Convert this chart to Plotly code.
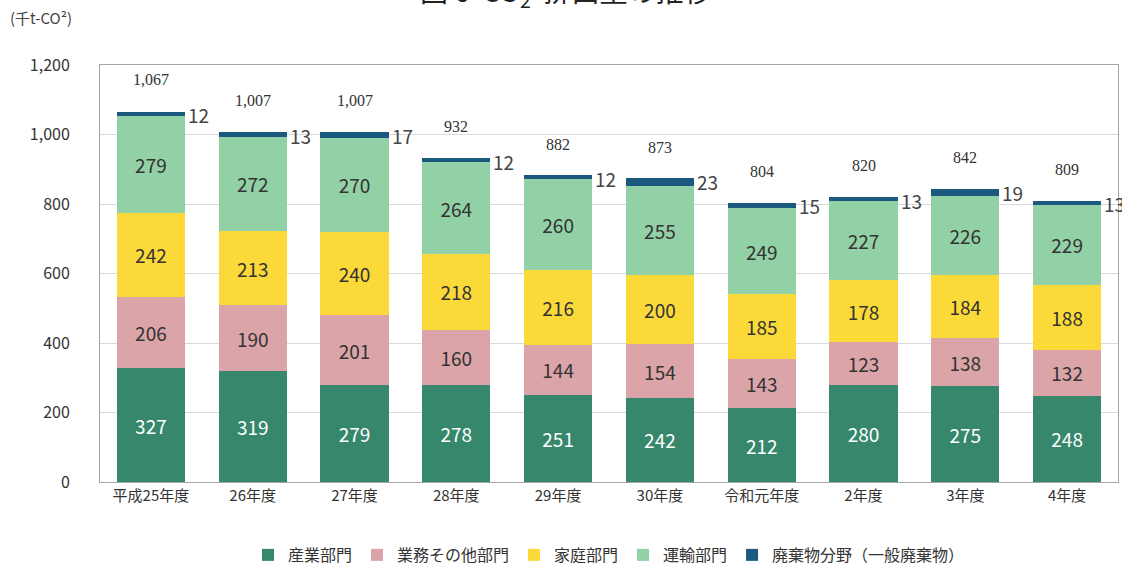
import plotly.graph_objects as go

categories = ["平成25年度", "26年度", "27年度", "28年度", "29年度", "30年度", "令和元年度", "2年度", "3年度", "4年度"]
industry = [327, 319, 279, 278, 251, 242, 212, 280, 275, 248]
business = [206, 190, 201, 160, 144, 154, 143, 123, 138, 132]
household = [242, 213, 240, 218, 216, 200, 185, 178, 184, 188]
transport = [279, 272, 270, 264, 260, 255, 249, 227, 226, 229]
waste = [12, 13, 17, 12, 12, 23, 15, 13, 19, 13]
totals = [1067, 1007, 1007, 932, 882, 873, 804, 820, 842, 809]

series = [
    ("産業部門", industry, "#36876b", "white", True),
    ("業務その他部門", business, "#dba4a8", "#333333", True),
    ("家庭部門", household, "#fbd938", "#333333", True),
    ("運輸部門", transport, "#92d0a5", "#333333", True),
    ("廃棄物分野（一般廃棄物）", waste, "#1b5a7e", "#333333", False),
]

JP = "Noto Sans CJK JP"
fig = go.Figure()
for name, vals, color, tcolor, show in series:
    fig.add_trace(go.Bar(
        x=categories, y=vals, name=name,
        marker=dict(color=color, line=dict(width=0)),
        text=[str(v) for v in vals] if show else None,
        textposition="inside" if show else "none",
        insidetextanchor="middle",
        textfont=dict(family=JP, size=19, color=tcolor),
        width=0.67,
        hoverinfo="skip",
    ))

annotations = []
for c, t, w in zip(categories, totals, waste):
    annotations.append(dict(x=c, y=t, xref="x", yref="y", text=f"{t:,}",
                            showarrow=False, yanchor="bottom", yshift=21,
                            font=dict(family="Liberation Serif", size=16, color="#333333")))
    annotations.append(dict(x=c, y=t, xref="x", yref="y", text=str(w),
                            showarrow=False, xanchor="left", yanchor="middle",
                            xshift=35, yshift=-3,
                            font=dict(family=JP, size=19, color="#444444")))

annotations.append(dict(x=-0.09, y=1.085, xref="paper", yref="paper", text="(千t-CO²)",
                        showarrow=False, xanchor="left", yanchor="bottom",
                        font=dict(family=JP, size=15, color="#444444")))
annotations.append(dict(x=0.458, y=1.118, xref="paper", yref="paper",
                        text="図 6  CO<sub>2</sub>  排出量の推移",
                        showarrow=False, xanchor="center", yanchor="bottom",
                        font=dict(family=JP, size=28, color="#222222")))

fig.update_layout(
    width=1122, height=572,
    barmode="stack",
    bargap=0.33,
    plot_bgcolor="white", paper_bgcolor="white",
    margin=dict(l=100, r=4, t=65, b=90, autoexpand=False),
    font=dict(family=JP, color="#333333"),
    showlegend=True,
    legend=dict(orientation="h", x=0.5, xanchor="center", y=-0.175, yanchor="middle",
                font=dict(family=JP, size=16, color="#333333"),
                traceorder="normal", itemwidth=30, bgcolor="rgba(0,0,0,0)"),
    annotations=annotations,
)
fig.update_xaxes(range=[-0.5, 9.5], showline=True, linecolor="#a6a6a6", mirror=True,
                 tickfont=dict(family=JP, size=15, color="#333333"), ticks="", showgrid=False)
fig.update_yaxes(range=[0, 1200], dtick=200, tickformat=",", showline=True, linecolor="#a6a6a6",
                 mirror=True, showgrid=True, gridcolor="#d9d9d9", gridwidth=1,
                 tickfont=dict(family=JP, size=16, color="#333333"), ticks="", ticklabelstandoff=26,
                 zeroline=False)

fig.write_html("out.html", config={"displayModeBar": False},
               post_script="document.body.style.margin='0';")
